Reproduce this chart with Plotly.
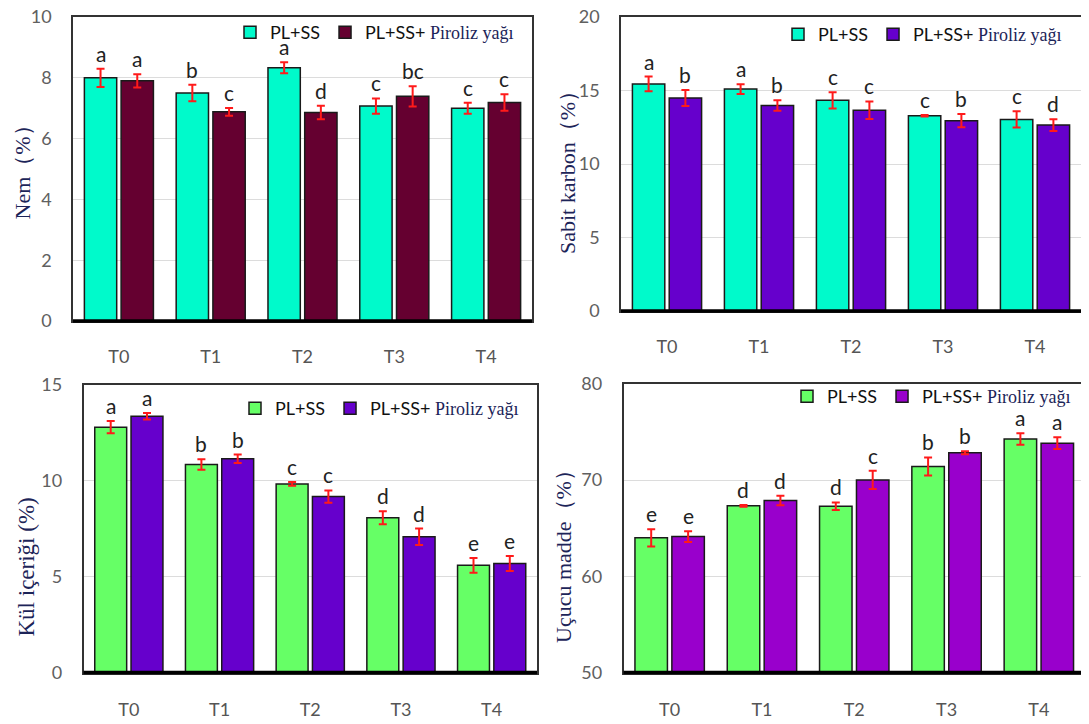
import plotly.graph_objects as go

categories = ["T0", "T1", "T2", "T3", "T4"]
series_names = ["PL+SS", "PL+SS+ Piroliz yağı"]

# Panel 1: Nem (%)
nem_a = [8.0, 7.5, 8.33, 7.07, 7.0]
nem_a_err = [0.3, 0.27, 0.18, 0.25, 0.18]
nem_b = [7.9, 6.88, 6.86, 7.39, 7.19]
nem_b_err = [0.22, 0.13, 0.22, 0.33, 0.27]
nem_a_let = ["a", "b", "a", "c", "c"]
nem_b_let = ["a", "c", "d", "bc", "c"]

# Panel 2: Sabit karbon (%)
sk_a = [15.45, 15.1, 14.33, 13.28, 13.03]
sk_a_err = [0.5, 0.33, 0.55, 0.05, 0.55]
sk_b = [14.49, 13.98, 13.66, 12.95, 12.65]
sk_b_err = [0.55, 0.35, 0.6, 0.45, 0.4]
sk_a_let = ["a", "a", "c", "c", "c"]
sk_b_let = ["b", "b", "c", "b", "d"]

# Panel 3: Kül içeriği (%)
kul_a = [12.8, 10.85, 9.84, 8.07, 5.59]
kul_a_err = [0.32, 0.27, 0.1, 0.34, 0.38]
kul_b = [13.37, 11.15, 9.18, 7.08, 5.69]
kul_b_err = [0.17, 0.22, 0.32, 0.43, 0.39]
kul_a_let = ["a", "b", "c", "d", "e"]
kul_b_let = ["a", "b", "c", "d", "e"]

# Panel 4: Uçucu madde (%)
um_a = [64.0, 67.33, 67.29, 71.42, 74.27]
um_a_err = [0.9, 0.1, 0.4, 0.94, 0.6]
um_b = [64.13, 67.88, 70.03, 72.85, 73.85]
um_b_err = [0.57, 0.5, 0.94, 0.15, 0.6]
um_a_let = ["e", "d", "d", "b", "a"]
um_b_let = ["e", "d", "c", "b", "a"]

# page is offset by the default 8px body margin
OFF = 8
W, H = 1089 - OFF, 724 - OFF
SANS = "Lato, Open Sans, sans-serif"
SERIF = "Liberation Serif, Times New Roman, serif"
NAVY = "#1c2458"
BARGAP = 0.2
GROUPGAP = 0.12


def fx(px):
    return (px - OFF) / W


def fy(py):
    return 1 - (py - OFF) / H


panels = [
    dict(xd=(73, 532), yd=(17, 321), rng=[0, 10], dtick=2, title="Nem（%）", tfs=22,
         a=nem_a, ae=nem_a_err, b=nem_b, be=nem_b_err, al=nem_a_let, bl=nem_b_let,
         ca="#00FACB", cb="#650030", leg=(519, 14), tx=22.5, ty=167, xs=19),
    dict(xd=(621, 1081), yd=(17, 311), rng=[0, 20], dtick=5, title="Sabit karbon（%）", tfs=22,
         a=sk_a, ae=sk_a_err, b=sk_b, be=sk_b_err, al=sk_a_let, bl=sk_b_let,
         ca="#00FACB", cb="#6600CC", leg=(1067, 16), tx=568, ty=167, xs=19),
    dict(xd=(83.5, 537), yd=(385, 672.5), rng=[0, 15], dtick=5, title="Kül içeriği (%)", tfs=23,
         a=kul_a, ae=kul_a_err, b=kul_b, be=kul_b_err, al=kul_a_let, bl=kul_b_let,
         ca="#66FF66", cb="#6600CC", leg=(524, 390), tx=25.5, ty=567, xs=20),
    dict(xd=(623.5, 1085), yd=(384, 672.5), rng=[50, 80], dtick=10, title="Uçucu madde（%）", tfs=22,
         a=um_a, ae=um_a_err, b=um_b, be=um_b_err, al=um_a_let, bl=um_b_let,
         ca="#66FF66", cb="#9900CC", leg=(1076, 378), tx=563, ty=551, xs=20),
]

fig = go.Figure()
annotations = []
shapes = []
layout = {}

for i, p in enumerate(panels):
    n = "" if i == 0 else str(i + 1)
    xa, ya = "x" + n, "y" + n
    legname = "legend" + n
    for vals, errs, col, name, og in [(p["a"], p["ae"], p["ca"], series_names[0], "a"),
                                       (p["b"], p["be"], p["cb"], series_names[1], "b")]:
        if name == series_names[1]:
            disp = 'PL+SS+ <span style="font-family:Liberation Serif, serif; color:#1c2458">Piroliz yağı</span>'
        else:
            disp = "PL+SS"
        fig.add_trace(go.Bar(
            x=categories, y=vals, name=disp, offsetgroup=og,
            marker=dict(color=col, line=dict(color="#1a1a1a", width=1.5)),
            error_y=dict(type="data", array=errs, color="#FF1A1A", thickness=2, width=4),
            xaxis=xa, yaxis=ya, legend=legname,
        ))
    layout["xaxis" + n] = dict(
        domain=[fx(p["xd"][0]), fx(p["xd"][1])], anchor=ya, showgrid=False, showline=True,
        linecolor="#333", linewidth=1.5, mirror=True, ticks="", automargin=False,
        tickfont=dict(family=SANS, size=18, color="#555"), ticklabelstandoff=p["xs"],
    )
    layout["yaxis" + n] = dict(
        domain=[fy(p["yd"][1]), fy(p["yd"][0])], anchor=xa, range=p["rng"], dtick=p["dtick"],
        showgrid=True, gridcolor="#dcdcdc", gridwidth=1, showline=True, automargin=False,
        linecolor="#333", linewidth=1.5, mirror=True, ticks="", zeroline=False,
        tickfont=dict(family=SANS, size=18, color="#606060"), ticklabelstandoff=16,
        ticklabeloverflow="allow",
    )
    shapes.append(dict(type="line", xref=xa + " domain", yref=ya + " domain",
                       x0=0, x1=1, y0=0, y1=0, line=dict(color="black", width=3.5)))
    annotations.append(dict(
        text=p["title"], xref="paper", yref="paper",
        x=fx(p["tx"]), y=fy(p["ty"]),
        xanchor="center", yanchor="middle", textangle=-90, showarrow=False,
        font=dict(family=SERIF, size=p["tfs"], color=NAVY),
    ))
    layout[legname] = dict(
        x=fx(p["leg"][0]), y=fy(p["leg"][1]), xanchor="right", yanchor="top",
        xref="paper", yref="paper", orientation="h", bgcolor="rgba(255,255,255,0)",
        font=dict(family=SANS, size=18, color="#111"), itemwidth=30,
        traceorder="normal", tracegroupgap=0,
    )
    # letters above error bars
    cat_w = (p["xd"][1] - p["xd"][0]) / len(categories)
    off = cat_w * (1 - BARGAP) / 4
    for vals, errs, lets, sgn in [(p["a"], p["ae"], p["al"], -1), (p["b"], p["be"], p["bl"], 1)]:
        for c, v, e, t in zip(categories, vals, errs, lets):
            annotations.append(dict(
                text=t, x=c, y=v + e, xref=xa, yref=ya, xshift=sgn * off, yshift=1,
                xanchor="center", yanchor="bottom", showarrow=False,
                font=dict(family=SANS, size=21, color="#222"),
            ))

fig.update_layout(
    width=W, height=H, margin=dict(l=0, r=0, t=0, b=0, autoexpand=False),
    paper_bgcolor="white", plot_bgcolor="white",
    barmode="group", bargap=BARGAP, bargroupgap=GROUPGAP,
    annotations=annotations, shapes=shapes, **layout,
)
fig.write_html("out.html")
